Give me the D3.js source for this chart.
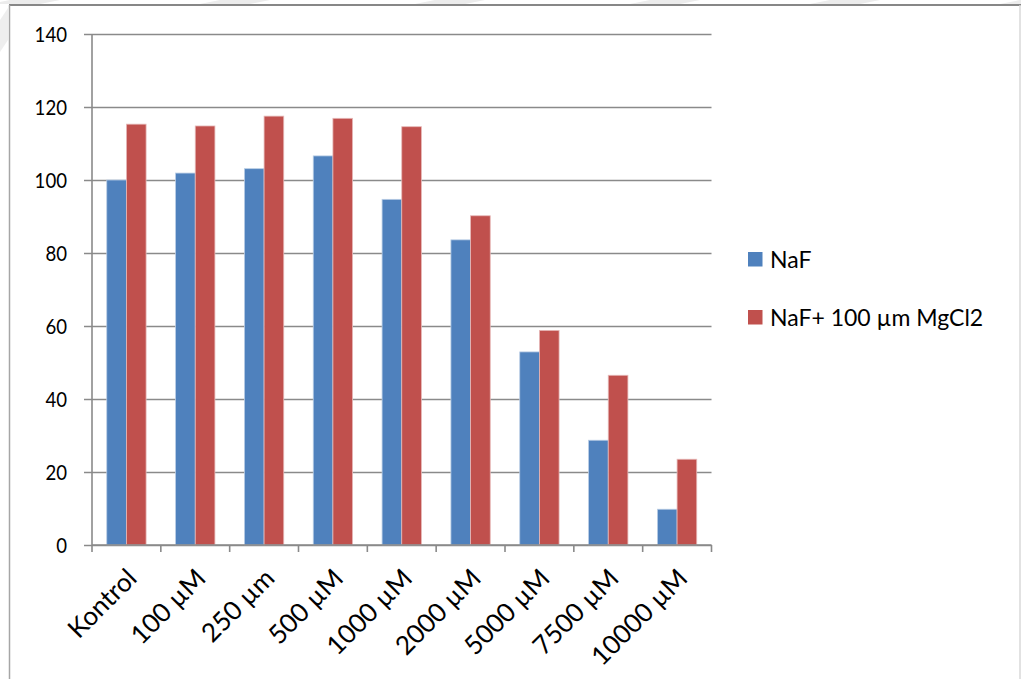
<!DOCTYPE html>
<html>
<head>
<meta charset="utf-8">
<script src="https://cdn.jsdelivr.net/npm/d3@7"></script>
<style>
  html, body { margin: 0; padding: 0; background: #fff; }
  svg { display: block; }
  text { font-family: Lato, "Open Sans", "DejaVu Sans", sans-serif; fill: #000; }
</style>
</head>
<body>
<svg id="chart" width="1021" height="679"></svg>
<script>
// Concentration groups on the x axis
const categories = ["Kontrol", "100 µM", "250 µm", "500 µM", "1000 µM", "2000 µM", "5000 µM", "7500 µM", "10000 µM"];
// Series values (% of control)
const nafValues = [100, 101.9, 103.1, 106.6, 94.7, 83.6, 52.9, 28.7, 9.8];
const nafMgValues = [115.3, 114.8, 117.5, 116.9, 114.6, 90.2, 58.8, 46.5, 23.5];
const seriesNames = ["NaF", "NaF+ 100 µm MgCl2"];
const seriesColors = ["#4f81bd", "#c0504d"];
const seriesEdges = ["#b9cde5", "#e6b9b8"];
const yTicks = [0, 20, 40, 60, 80, 100, 120, 140];

const svg = d3.select("#chart");
const W = 1021, H = 679;
const plot = { left: 92, right: 711.5, top: 34, bottom: 545 };

// Faint diagonal marks along the top and left margins
const bg = svg.append("g");
const stripeStarts = [-10, 200, 415, 630, 810, 1000];
bg.selectAll("path.stripe").data(stripeStarts).join("path")
  .attr("d", s => `M${s},4 L${s + 20},0 L${s + 70},0 L${s + 50},4 Z`)
  .attr("fill", "#ececec");
bg.append("path").attr("d", "M0,20 L8,8 L8,40 L0,52 Z").attr("fill", "#eeeeee");

// Outer frame
svg.append("line").attr("x1", 9).attr("x2", W).attr("y1", 5).attr("y2", 5)
  .attr("stroke", "#878787").attr("stroke-width", 2);
svg.append("line").attr("x1", 9.5).attr("x2", 9.5).attr("y1", 5).attr("y2", H)
  .attr("stroke", "#a6a6a6").attr("stroke-width", 1.5);
svg.append("line").attr("x1", 1020).attr("x2", 1020).attr("y1", 5).attr("y2", H)
  .attr("stroke", "#d9d9d9").attr("stroke-width", 1.5);

const x = d3.scaleBand().domain(categories).range([plot.left, plot.right]).paddingInner(0).paddingOuter(0);
const xs = d3.scaleBand().domain(seriesNames).range([0, x.bandwidth()]).paddingInner(0).paddingOuter(0.75);
const y = d3.scaleLinear().domain([0, 140]).range([plot.bottom, plot.top]);

// Horizontal gridlines with left tick marks
const yAxis = d3.axisLeft(y).tickValues(yTicks).tickSize(-(plot.right - plot.left)).tickSizeOuter(0).tickPadding(25);
const gy = svg.append("g").attr("transform", `translate(${plot.left},0)`).call(yAxis);
gy.select(".domain").remove();
gy.selectAll(".tick line").attr("stroke", "#8a8a8a").attr("stroke-width", 1.6).attr("x1", -8);
gy.selectAll(".tick text").attr("font-size", 22).attr("font-family", "Lato, sans-serif")
  .attr("fill", "#000").attr("dy", "0.36em")
  .attr("textLength", d => String(d).length * 10.8)
  .attr("lengthAdjust", "spacingAndGlyphs");

// Vertical value axis line
svg.append("line").attr("x1", plot.left).attr("x2", plot.left).attr("y1", plot.top).attr("y2", plot.bottom)
  .attr("stroke", "#8a8a8a").attr("stroke-width", 1.6);

// Bars
const rows = categories.map((c, i) => ({ cat: c, vals: [nafValues[i], nafMgValues[i]] }));
const groups = svg.append("g").selectAll("g").data(rows).join("g")
  .attr("transform", d => `translate(${x(d.cat)},0)`);
groups.selectAll("rect").data(d => d.vals.map((v, k) => ({ v, k }))).join("rect")
  .attr("x", d => xs(seriesNames[d.k]))
  .attr("width", xs.bandwidth())
  .attr("y", d => y(d.v))
  .attr("height", d => y(0) - y(d.v))
  .attr("fill", d => seriesColors[d.k])
  .attr("stroke", d => seriesEdges[d.k])
  .attr("stroke-width", 0.8);

// Category axis with boundary ticks
const boundaries = categories.map(c => x(c)).concat([plot.right]);
svg.append("line").attr("x1", plot.left).attr("x2", plot.right).attr("y1", plot.bottom).attr("y2", plot.bottom)
  .attr("stroke", "#8a8a8a").attr("stroke-width", 1.6);
svg.append("g").selectAll("line").data(boundaries).join("line")
  .attr("x1", d => d).attr("x2", d => d)
  .attr("y1", plot.bottom).attr("y2", plot.bottom + 7)
  .attr("stroke", "#8a8a8a").attr("stroke-width", 1.6);

// Rotated category labels
svg.append("g").selectAll("text").data(categories).join("text")
  .attr("transform", d => `translate(${x(d) + x.bandwidth() / 2 + 12},${plot.bottom + 35}) rotate(-45)`)
  .attr("text-anchor", "end")
  .attr("font-size", 26)
  .text(d => d);

// Legend
const legend = svg.append("g").selectAll("g").data(seriesNames).join("g")
  .attr("transform", (d, i) => `translate(748,${252 + i * 58})`);
legend.append("rect").attr("width", 14.5).attr("height", 14.5)
  .attr("fill", (d, i) => seriesColors[i]);
legend.append("text").attr("x", 22).attr("y", 15.5).attr("font-size", 23).text(d => d);
</script>
</body>
</html>
